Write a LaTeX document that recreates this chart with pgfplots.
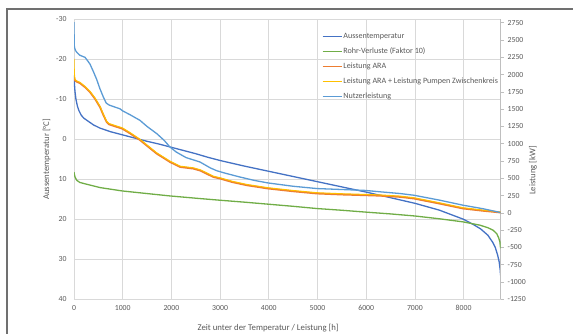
\documentclass[border=0pt]{standalone}
\usepackage{fontspec}
\setmainfont{Carlito}
\usepackage{pgfplots}
\pgfplotsset{compat=1.18}
\definecolor{gridc}{HTML}{D9D9D9}
\definecolor{tickc}{HTML}{595959}
\definecolor{axisc}{HTML}{BFBFBF}
\definecolor{frame}{HTML}{707070}
\definecolor{cTemp}{HTML}{4472C4}
\definecolor{cRohr}{HTML}{70AD47}
\definecolor{cARA}{HTML}{ED7D31}
\definecolor{cPump}{HTML}{FFC000}
\definecolor{cNutz}{HTML}{5B9BD5}
\begin{document}
\begin{tikzpicture}
\useasboundingbox (-74bp,-34.7bp) rectangle (499bp,299.3bp);
\draw[frame,line width=1.2bp] (-67bp,-40bp) -- (-67bp,290.3bp) -- (505bp,290.3bp);
\begin{axis}[
  at={(0,0)}, anchor=south west,
  scale only axis, width=426.6bp, height=280bp,
  xmin=0, xmax=8760, ymin=-30, ymax=40, y dir=reverse,
  xtick={0,1000,...,8000}, ytick={-30,-20,...,40},
  grid=major, major grid style={color=gridc, line width=0.6bp},
  axis line style={draw=none}, major tick length=0pt,
  tick label style={font=\fontsize{7.8}{9}\selectfont, text=tickc},
  /pgf/number format/assume math mode=true,
  /pgf/number format/1000 sep={},
  xticklabel style={yshift=-2.5bp},
  yticklabel style={xshift=-4bp},
  xlabel={Zeit unter der Temperatur / Leistung [h]},
  xlabel style={at={(axis description cs:0.455,-0.1025)}, anchor=center, font=\fontsize{8.8}{10}\selectfont, text=tickc},
  ylabel={Aussentemperatur [°C]},
  ylabel style={at={(axis description cs:-0.064,0.5)}, anchor=center, rotate=0, font=\fontsize{8.8}{10}\selectfont, text=tickc},
]
\addplot[cTemp, line width=1.3bp] coordinates {
(0,-16) (8,-14) (20,-12) (40,-10) (70,-8.3) (100,-7.2) (150,-6) (200,-5.3) (270,-4.7) (400,-3.6) (534,-2.8) (750,-1.9) (1000,-1.1) (1250,-0.3) (1500,0.5) (1750,1.2) (2000,2.0) (2250,2.8) (2500,3.6) (2750,4.5) (3000,5.3) (3500,6.7) (4000,8.0) (4500,9.3) (5000,10.6) (5500,11.9) (6000,13.2) (6500,14.6) (7000,16.0) (7500,17.7) (8000,20.0) (8200,21.3) (8350,22.4) (8500,24.0) (8600,25.8) (8650,27) (8700,29) (8730,30.6) (8750,32.5) (8760,34)
};
\end{axis}
\begin{axis}[
  at={(0,0)}, anchor=south west,
  scale only axis, width=426.6bp, height=280bp,
  xmin=0, xmax=8760, ymin=-1250, ymax=2800,
  axis x line=none, axis y line*=right,
  ytick={-1250,-1000,...,2750},
  tick align=outside, major tick length=3.5bp,
  ytick style={color=axisc, line width=0.6bp},
  axis line style={color=axisc, line width=0.6bp},
  tick label style={font=\fontsize{7.8}{9}\selectfont, text=tickc},
  /pgf/number format/assume math mode=true,
  /pgf/number format/1000 sep={},
  ylabel={Leistung [kW]},
  ylabel style={at={(axis description cs:1.076,0.46)}, anchor=center, rotate=0, font=\fontsize{8.8}{10}\selectfont, text=tickc},
  legend style={at={(axis description cs:0.58,0.957)}, anchor=north west, draw=none, fill=none,
    font=\fontsize{8.1}{10}\selectfont, text=tickc, inner sep=0pt, row sep=5.2bp,
    nodes={inner sep=1bp, text height=6.1bp, text depth=1.7bp}},
  legend cell align=left,
  legend image code/.code={\draw[#1] (0bp,0bp) -- (19bp,0bp);},
]
\addlegendimage{cTemp, line width=1.3bp}
\addlegendentry{Aussentemperatur}
\addplot[cRohr, line width=1.3bp] coordinates {
(0,590) (20,520) (55,472) (120,440) (261,414) (534,366) (992,317) (1493,280) (1971,245) (2587,207) (2998,183) (3500,155) (3984,126) (4500,95) (4984,63) (5500,38) (5975,12) (6500,-15) (7000,-45) (7500,-85) (7988,-130) (8337,-178) (8500,-215) (8604,-250) (8680,-300) (8720,-360) (8745,-420) (8760,-514)
};
\addlegendentry{Rohr-Verluste (Faktor 10)}
\addplot[cARA, line width=1.8bp] coordinates {
(0,1963) (20,1915) (60,1895) (123,1876) (226,1818) (329,1746) (431,1651) (534,1530) (600,1420) (671,1313) (720,1280) (850,1250) (992,1218) (1150,1150) (1355,1053) (1500,970) (1698,857) (1850,790) (1971,736) (2177,664) (2450,640) (2600,610) (2860,519) (3000,496) (3250,445) (3545,400) (3984,352) (4500,312) (4984,280) (5500,265) (5975,255) (6283,248) (6694,231) (6982,207) (7500,135) (7988,63) (8400,30) (8760,5)
};
\addlegendentry{Leistung ARA}
\addplot[cPump, line width=1.0bp] coordinates {
(0,2228) (4,2100) (10,2000) (20,1930) (60,1907) (123,1888) (226,1830) (329,1758) (431,1663) (534,1542) (600,1432) (671,1325) (720,1292) (850,1262) (992,1230) (1150,1162) (1355,1065) (1500,982) (1698,869) (1850,802) (1971,748) (2177,676) (2450,652) (2600,622) (2860,531) (3000,508) (3250,457) (3545,412) (3984,364) (4500,324) (4984,292) (5500,277) (5975,267) (6283,260) (6694,243) (6982,219) (7500,147) (7988,75) (8400,40) (8760,12)
};
\addlegendentry{Leistung ARA + Leistung Pumpen Zwischenkreis}
\addplot[cNutz, line width=1.3bp] coordinates {
(0,2760) (3,2500) (8,2400) (30,2350) (60,2320) (120,2280) (226,2250) (280,2200) (330,2150) (400,2040) (466,1930) (530,1800) (600,1680) (660,1590) (720,1560) (800,1540) (945,1505) (1000,1475) (1150,1420) (1355,1338) (1500,1250) (1700,1146) (1850,1050) (1971,952) (2100,880) (2300,800) (2587,736) (2800,650) (2930,610) (3100,575) (3400,520) (3700,470) (3984,433) (4500,385) (4984,352) (5500,338) (5975,325) (6283,305) (6694,280) (6982,255) (7500,185) (7988,111) (8400,60) (8760,5)
};
\addlegendentry{Nutzerleistung}
\end{axis}
\end{tikzpicture}
\end{document}
